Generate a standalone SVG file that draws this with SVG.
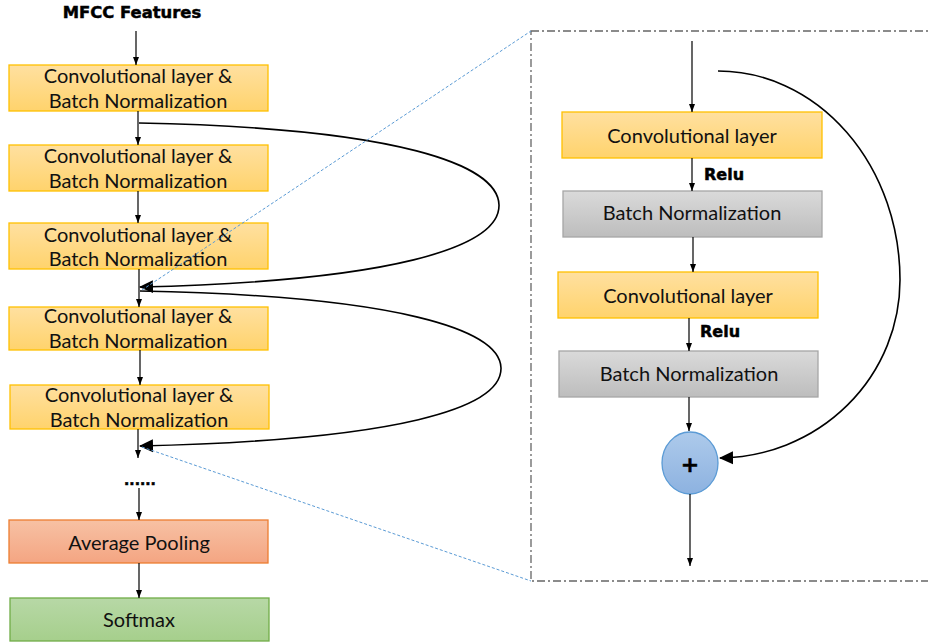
<svg xmlns="http://www.w3.org/2000/svg" width="928" height="643" viewBox="0 0 928 643">
  <defs>
    <linearGradient id="gOrange" x1="0" y1="0" x2="0" y2="1">
      <stop offset="0" stop-color="#ffe0a0"/>
      <stop offset="1" stop-color="#ffd36c"/>
    </linearGradient>
    <linearGradient id="gGray" x1="0" y1="0" x2="0" y2="1">
      <stop offset="0" stop-color="#dadada"/>
      <stop offset="1" stop-color="#bdbdbd"/>
    </linearGradient>
    <linearGradient id="gRed" x1="0" y1="0" x2="0" y2="1">
      <stop offset="0" stop-color="#f7c1a4"/>
      <stop offset="1" stop-color="#f4a582"/>
    </linearGradient>
    <linearGradient id="gGreen" x1="0" y1="0" x2="0" y2="1">
      <stop offset="0" stop-color="#b7d8a6"/>
      <stop offset="1" stop-color="#a6cf8c"/>
    </linearGradient>
    <linearGradient id="gBlue" x1="0" y1="0" x2="0" y2="1">
      <stop offset="0" stop-color="#adcaeb"/>
      <stop offset="1" stop-color="#8db2e0"/>
    </linearGradient>
    <marker id="arrSmall" markerUnits="userSpaceOnUse" markerWidth="8" markerHeight="8" viewBox="0 0 8 8" refX="8" refY="4" orient="auto">
      <path d="M0,1 L8,4 L0,7 Z" fill="#000"/>
    </marker>
    <marker id="arrBig" markerUnits="userSpaceOnUse" markerWidth="14" markerHeight="14" viewBox="0 0 14 14" refX="13" refY="7" orient="auto">
      <path d="M0,0.5 L14,7 L0,13.5 Z" fill="#000"/>
    </marker>
    <style>
      .orange { fill: url(#gOrange); stroke: #ffc000; stroke-width: 1.3; }
      .gray { fill: url(#gGray); stroke: #a6a6a6; stroke-width: 1.3; }
      .red { fill: url(#gRed); stroke: #ed7d31; stroke-width: 1.3; }
      .green { fill: url(#gGreen); stroke: #70ad47; stroke-width: 1.3; }
      .lbl { font-family: Lato, "Liberation Sans", sans-serif; font-size: 20px; fill: #111; text-anchor: middle; }
      .bold { font-family: "DejaVu Sans", sans-serif; font-weight: bold; font-size: 16px; fill: #000; stroke: #000; stroke-width: 0.5; }
      .line { fill: none; stroke: #000; stroke-width: 1.2; marker-end: url(#arrSmall); }
      .curve { fill: none; stroke: #000; stroke-width: 1.6; marker-end: url(#arrBig); }
      .zoomline { fill: none; stroke: #5b9bd5; stroke-width: 1; stroke-dasharray: 3 2; }
      .frame { fill: none; stroke: #666; stroke-width: 1.3; stroke-dasharray: 8 3 2 3; }
    </style>
  </defs>

  <rect width="928" height="643" fill="#fff"/>

  <!-- detail frame of the residual block -->
  <rect id="detail-frame" class="frame" x="531" y="31" width="420" height="550"/>

  <!-- main network column -->
  <text id="input-label" class="bold" x="132" y="18" text-anchor="middle" style="font-size:16.4px">MFCC Features</text>

  <g id="conv1">
    <rect class="orange" x="9" y="65" width="259" height="46"/>
    <text class="lbl" x="138" y="83">Convolutional layer &amp;</text>
    <text class="lbl" x="138" y="108">Batch Normalization</text>
  </g>
  <g id="conv2">
    <rect class="orange" x="9" y="145" width="259" height="46"/>
    <text class="lbl" x="138" y="163">Convolutional layer &amp;</text>
    <text class="lbl" x="138" y="188">Batch Normalization</text>
  </g>
  <g id="conv3">
    <rect class="orange" x="9" y="223" width="259" height="46"/>
    <text class="lbl" x="138" y="242">Convolutional layer &amp;</text>
    <text class="lbl" x="138" y="266">Batch Normalization</text>
  </g>
  <g id="conv4">
    <rect class="orange" x="9" y="307" width="259" height="43"/>
    <text class="lbl" x="138" y="323">Convolutional layer &amp;</text>
    <text class="lbl" x="138" y="348">Batch Normalization</text>
  </g>
  <g id="conv5">
    <rect class="orange" x="10" y="385" width="259" height="44"/>
    <text class="lbl" x="139" y="402">Convolutional layer &amp;</text>
    <text class="lbl" x="139" y="427">Batch Normalization</text>
  </g>

  <text id="ellipsis" class="bold" x="140" y="485" text-anchor="middle" style="font-size:14px">......</text>

  <g id="avg-pool">
    <rect class="red" x="9" y="520" width="259" height="43"/>
    <text class="lbl" x="139" y="550">Average Pooling</text>
  </g>
  <g id="softmax">
    <rect class="green" x="10" y="598" width="259" height="43"/>
    <text class="lbl" x="139" y="627">Softmax</text>
  </g>

  <!-- residual block detail -->
  <g id="block-conv1">
    <rect class="orange" x="562" y="112" width="260" height="46"/>
    <text class="lbl" x="692" y="143">Convolutional layer</text>
  </g>
  <text id="relu1" class="bold" x="704" y="180">Relu</text>
  <g id="block-bn1">
    <rect class="gray" x="563" y="191" width="259" height="46"/>
    <text class="lbl" x="692" y="220">Batch Normalization</text>
  </g>
  <g id="block-conv2">
    <rect class="orange" x="558" y="272" width="260" height="46"/>
    <text class="lbl" x="688" y="303">Convolutional layer</text>
  </g>
  <text id="relu2" class="bold" x="700" y="337">Relu</text>
  <g id="block-bn2">
    <rect class="gray" x="559" y="351" width="259" height="46"/>
    <text class="lbl" x="689" y="381">Batch Normalization</text>
  </g>
  <g id="block-add">
    <ellipse cx="690" cy="463" rx="28" ry="31" fill="url(#gBlue)" stroke="#5b9bd5" stroke-width="1.3"/>
    <text class="bold" x="690" y="472" text-anchor="middle" style="font-size:22px">+</text>
  </g>

  <!-- connectors -->
  <g id="connectors">
    <path class="line" d="M136,31 V65"/>
    <path class="line" d="M138,111 V145"/>
    <path class="line" d="M138,191 V223"/>
    <path class="line" d="M139,269 V307"/>
    <path class="line" d="M140,350 V385"/>
    <path class="line" d="M138,429 V458"/>
    <path class="line" d="M139,488 V520"/>
    <path class="line" d="M139,563 V598"/>

    <path class="curve" d="M139,123 C400,128 498,165 499,205 C500,248 390,281 140,287"/>
    <path class="curve" d="M140,291 C400,296 500,330 501,368 C502,408 400,440 140,446"/>

    <path class="zoomline" d="M142,290 L531,31"/>
    <path class="zoomline" d="M142,447 L531,581"/>

    <path class="line" d="M692,41 V112"/>
    <path class="line" d="M692,158 V191"/>
    <path class="line" d="M693,237 V272"/>
    <path class="line" d="M689,318 V351"/>
    <path class="line" d="M689,397 V431"/>
    <path class="line" d="M690,494 V566"/>
    <path class="curve" d="M718,71 A182,209 0 0 1 900,280 A182,178 0 0 1 720,458"/>
  </g>
</svg>
